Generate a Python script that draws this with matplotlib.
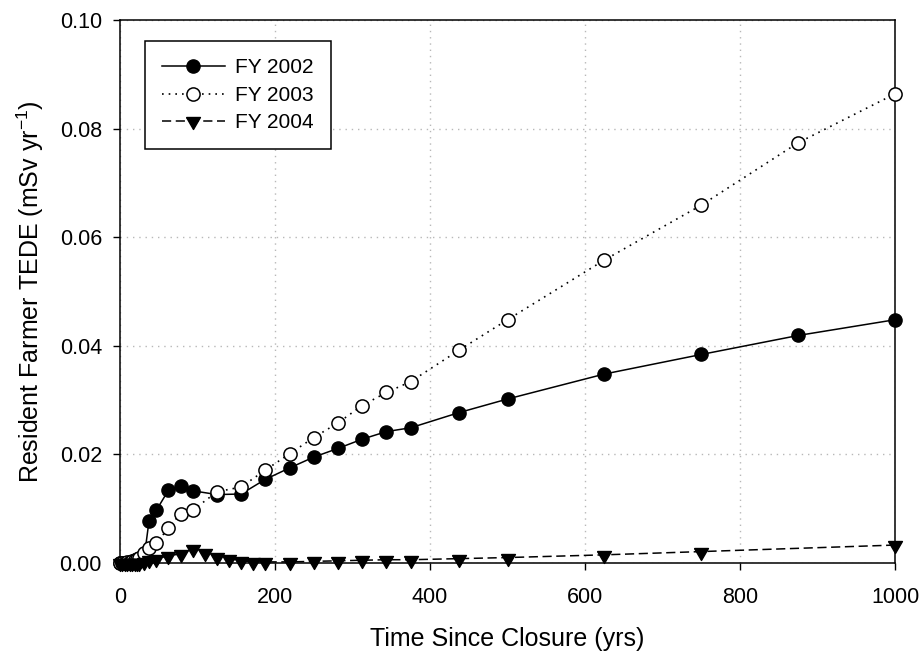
import matplotlib
matplotlib.use("Agg")
import matplotlib.pyplot as plt

plt.rcParams["font.family"] = ["Liberation Sans", "DejaVu Sans"]
plt.rcParams["mathtext.fontset"] = "custom"
plt.rcParams["mathtext.rm"] = "Liberation Sans"
plt.rcParams["mathtext.it"] = "Liberation Sans"

# times (yrs) and TEDE (mSv/yr)
t_fy02 = [0, 3.125, 6.25, 9.375, 12.5, 15.625, 18.75, 21.875, 25, 31.25,
          37.5, 46.875, 62.5, 78.125, 93.75, 125, 156.25, 187.5, 218.75, 250,
          281.25, 312.5, 343.75, 375, 437.5, 500, 625, 750, 875, 1000]
fy02 = [0, 0, 0, 0, 0.00002, 0.00005, 0.0001, 0.0002, 0.0004, 0.0010,
        0.0078, 0.0097, 0.0134, 0.0142, 0.0133, 0.0126, 0.0127, 0.0154, 0.0175, 0.0195,
        0.0211, 0.0228, 0.0242, 0.0249, 0.0277, 0.0302, 0.0348, 0.0384, 0.0419, 0.0448]

t_fy03 = t_fy02
fy03 = [0, 0, 0.00005, 0.0001, 0.0002, 0.0003, 0.0005, 0.0007, 0.0010, 0.0018,
        0.0028, 0.0037, 0.0064, 0.0091, 0.0097, 0.0131, 0.0140, 0.0171, 0.0201, 0.0231,
        0.0258, 0.0290, 0.0314, 0.0334, 0.0392, 0.0448, 0.0558, 0.0659, 0.0774, 0.0864]

t_fy04 = [0, 3.125, 6.25, 9.375, 12.5, 15.625, 18.75, 21.875, 25, 31.25,
          37.5, 46.875, 62.5, 78.125, 93.75, 109.375, 125, 140.625, 156.25, 171.875,
          187.5, 218.75, 250, 281.25, 312.5, 343.75, 375, 437.5, 500, 625, 750, 1000]
fy04 = [0, 0, 0, 0, 0, 0, 0, 0, 0.00005, 0.0002,
        0.0005, 0.0008, 0.0013, 0.0017, 0.0026, 0.0018, 0.0011, 0.0008, 0.0004, 0.0002,
        0.0002, 0.0002, 0.0003, 0.0004, 0.0005, 0.0006, 0.0006, 0.0008, 0.0010, 0.0015, 0.0021, 0.0033]

labels = ["FY 2002", "FY 2003", "FY 2004"]

# down triangle with its centroid on the data point
tri = [(-0.87, 0.5), (0.87, 0.5), (0, -1), (-0.87, 0.5)]

fig = plt.figure(figsize=(9.23, 6.56), dpi=100)
ax = fig.add_axes([0.130, 0.1418, 0.8397, 0.8277])

ax.plot(t_fy02, fy02, color="black", lw=1.1, marker="o", ms=9.5,
        mfc="black", mec="black", label=labels[0], clip_on=False, zorder=3)
ax.plot(t_fy03, fy03, color="black", lw=1.2, ls=(0, (1, 3)), marker="o", ms=9.5,
        mfc="white", mec="black", mew=1.1, label=labels[1], clip_on=False, zorder=4)
ax.plot(t_fy04, fy04, color="black", lw=1.1, ls=(0, (6, 3)), marker=tri, ms=11.5,
        mfc="black", mec="black", label=labels[2], clip_on=False, zorder=5)

ax.set_xlim(0, 1000)
ax.set_ylim(0, 0.10)
ax.set_xticks([0, 200, 400, 600, 800, 1000])
ax.set_yticks([0, 0.02, 0.04, 0.06, 0.08, 0.10])
ax.set_yticklabels(["%.2f" % v for v in ax.get_yticks()])

ax.grid(True, color="#b8b8b8", ls=(0, (1, 3.5)), lw=1.0)
ax.set_axisbelow(True)
for s in ax.spines.values():
    s.set_linewidth(1.1)
ax.tick_params(direction="out", length=5, width=1.0, labelsize=15.5)
ax.tick_params(axis="x", pad=12)
ax.tick_params(axis="y", pad=8)

ax.set_xlabel("Time Since Closure (yrs)", fontsize=18, labelpad=14)
ax.set_ylabel("Resident Farmer TEDE (mSv yr$^{-1}$)", fontsize=18, labelpad=10)

leg = ax.legend(loc="upper left", bbox_to_anchor=(0.032, 0.961), borderaxespad=0,
                fontsize=15, handlelength=3.0, handletextpad=0.5, labelspacing=0.4,
                borderpad=0.83, fancybox=False, framealpha=1, edgecolor="black",
                numpoints=1)
leg.get_frame().set_linewidth(1.1)

fig.savefig("out.png", dpi=100)
